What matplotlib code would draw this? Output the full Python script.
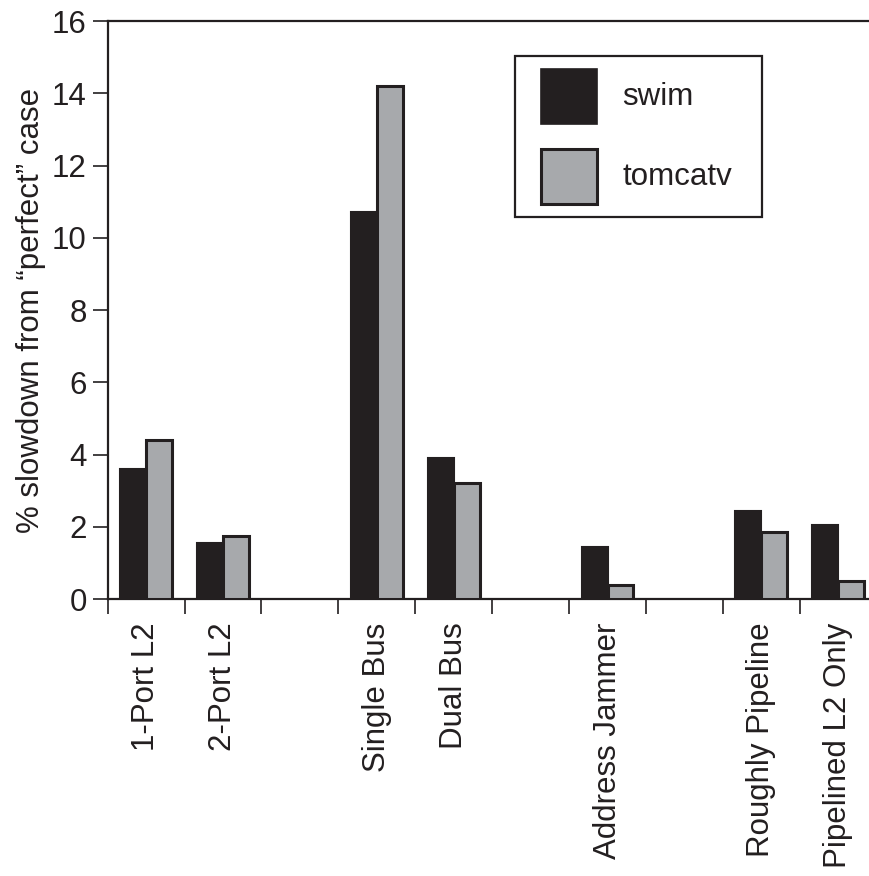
import matplotlib
matplotlib.use("Agg")
import matplotlib.pyplot as plt
from matplotlib.patches import Rectangle
import numpy as np

plt.rcParams['font.family'] = ['Liberation Sans', 'DejaVu Sans']

categories = ["1-Port L2", "2-Port L2", "", "Single Bus", "Dual Bus", "",
              "Address Jammer", "", "Roughly Pipeline", "Pipelined L2 Only"]
swim = [3.6, 1.55, 0, 10.7, 3.9, 0, 1.45, 0, 2.45, 2.05]
tomcatv = [4.4, 1.75, 0, 14.2, 3.2, 0, 0.4, 0, 1.85, 0.5]
series_names = ["swim", "tomcatv"]
yticks = [0, 2, 4, 6, 8, 10, 12, 14, 16]

C_BLACK = "#231f20"
C_GRAY = "#a7a9ac"
FS = 22.5

fig = plt.figure(figsize=(8.69, 8.76), dpi=100)
ax = fig.add_axes([0.1239, 0.3162, 0.8849, 0.6598])

n = len(categories)
centers = np.arange(n) + 0.5
w = 0.338
mask = [c != "" for c in categories]
xs = centers[mask]
sv = np.array(swim)[mask]
tv = np.array(tomcatv)[mask]
ax.bar(xs - w / 2, sv, width=w, color=C_BLACK, edgecolor=C_BLACK, linewidth=1.5, zorder=3)
ax.bar(xs + w / 2, tv, width=w, color=C_GRAY, edgecolor=C_BLACK, linewidth=2.2, zorder=3)

ax.set_xlim(0, n)
ax.set_ylim(0, 16)
ax.set_yticks(yticks)
ax.set_yticklabels([str(t) for t in yticks], fontsize=FS)
ax.set_xticks(np.arange(n + 1))
ax.set_xticklabels([])
ax.set_xticks(centers, minor=True)
ax.set_xticklabels(categories, minor=True, rotation=90, fontsize=FS, va='top', ha='center')
ax.tick_params(axis='x', which='minor', length=0, pad=17, colors='#231f20')
ax.tick_params(axis='x', which='major', length=11, width=1.2, color='#231f20', direction='out')
ax.tick_params(axis='y', length=11, width=1.2, color='#231f20', pad=4, labelcolor='#231f20')

for s in ax.spines.values():
    s.set_linewidth(1.6)
    s.set_color('#231f20')

ax.set_ylabel("% slowdown from \u201cperfect\u201d case", fontsize=FS, color='#231f20')
ax.yaxis.set_label_coords(-0.080, 0.5)

# legend drawn manually
lx0, lx1, ly0, ly1 = 0.5297, 0.8505, 0.6614, 0.940
ax.add_patch(Rectangle((lx0, ly0), lx1 - lx0, ly1 - ly0, transform=ax.transAxes,
                       facecolor='white', edgecolor='#231f20', linewidth=1.6, zorder=5))
ax.add_patch(Rectangle((0.5635, 0.8218), 0.0728, 0.0952, transform=ax.transAxes,
                       facecolor=C_BLACK, edgecolor=C_BLACK, linewidth=1.2, zorder=6))
ax.add_patch(Rectangle((0.5635, 0.6834), 0.0728, 0.0951, transform=ax.transAxes,
                       facecolor=C_GRAY, edgecolor=C_BLACK, linewidth=2.2, zorder=6))
ax.text(0.6697, 0.869, series_names[0], transform=ax.transAxes, fontsize=FS,
        va='center', ha='left', color='#231f20', zorder=7)
ax.text(0.6697, 0.7306, series_names[1], transform=ax.transAxes, fontsize=FS,
        va='center', ha='left', color='#231f20', zorder=7)

fig.savefig("out.png", dpi=100, facecolor='white')
